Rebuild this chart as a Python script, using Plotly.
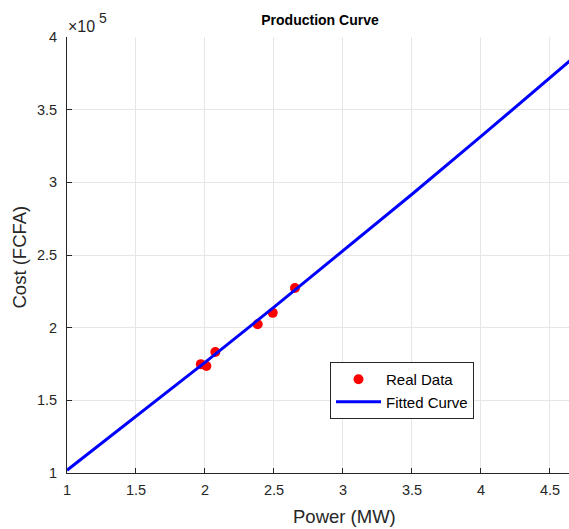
import plotly.graph_objects as go

# Data
power_mw = [1.970, 2.010, 2.075, 2.382, 2.491, 2.652]
cost_fcfa = [174900, 173600, 183200, 202300, 210200, 227300]

# Fitted curve
fit_power = [1.0, 1.5, 2.0, 2.5, 3.0, 3.5, 4.0, 4.5, 4.7]
fit_cost = [101900, 138700, 176100, 214100, 252700, 291800, 331600, 371900, 388100]

x_ticks = [1, 1.5, 2, 2.5, 3, 3.5, 4, 4.5]
x_ticktext = ["1", "1.5", "2", "2.5", "3", "3.5", "4", "4.5"]
y_ticks = [100000, 150000, 200000, 250000, 300000, 350000, 400000]
y_ticktext = ["1", "1.5", "2", "2.5", "3", "3.5", "4"]

FONT = "Liberation Sans, Arial, sans-serif"
DARK = "#262626"
GRID = "#e6e6e6"

L, T, B = 67, 37, 56
W, H = 569, 529
PW = 502.0           # plot width in px (x range ends at window edge)
PH = H - T - B       # plot height in px

fig = go.Figure()
fig.add_trace(go.Scatter(
    x=power_mw, y=cost_fcfa, mode="markers", name="Real Data",
    marker=dict(color="#ff0000", size=10, line=dict(width=0)),
))
fig.add_trace(go.Scatter(
    x=fit_power, y=fit_cost, mode="lines", name="Fitted Curve",
    line=dict(color="#0000ff", width=3),
))

fig.update_layout(
    width=W, height=H,
    margin=dict(l=L, r=0, t=T, b=B, autoexpand=False),
    paper_bgcolor="white", plot_bgcolor="white",
    font=dict(family=FONT, size=14, color=DARK),
    title=dict(text="<b>Production Curve</b>", x=320 / W, xanchor="center",
               y=1 - 20 / H, yanchor="middle", font=dict(size=14, color="black")),
    showlegend=True,
    legend=dict(x=(330 - L) / PW, y=(473 - 362) / PH, xanchor="left", yanchor="top",
                bgcolor="white", bordercolor=DARK, borderwidth=1,
                font=dict(size=15, color="black"), tracegroupgap=0,
                itemwidth=45),
    xaxis=dict(
        range=[1, 4.638], tickvals=x_ticks, ticktext=x_ticktext,
        showgrid=True, gridcolor=GRID, gridwidth=1,
        showline=True, linecolor=DARK, linewidth=1,
        ticks="inside", ticklen=5, tickcolor=DARK, ticklabelstandoff=4,
        zeroline=False, tickfont=dict(size=14.5, color=DARK),
        automargin=False,
    ),
    yaxis=dict(
        range=[100000, 400000], tickvals=y_ticks, ticktext=y_ticktext,
        showgrid=True, gridcolor=GRID, gridwidth=1,
        showline=True, linecolor=DARK, linewidth=1,
        ticks="inside", ticklen=5, tickcolor=DARK, ticklabelstandoff=6,
        zeroline=False, tickfont=dict(size=14.5, color=DARK),
        automargin=False,
    ),
)

# axis titles
fig.add_annotation(
    x=(344 - L) / PW, y=-(516 - 473) / PH, xref="paper", yref="paper",
    xanchor="center", yanchor="middle", text="Power (MW)", showarrow=False,
    font=dict(size=18.5, color=DARK),
)
fig.add_annotation(
    x=(19 - L) / PW, y=(473 - 257.5) / PH, xref="paper", yref="paper",
    xanchor="center", yanchor="middle", text="Cost (FCFA)", showarrow=False,
    textangle=-90, font=dict(size=18.5, color=DARK),
)

# exponent label
fig.add_annotation(
    x=(66 - L) / PW, y=(473 - 26.5) / PH, xref="paper", yref="paper",
    xanchor="left", yanchor="middle", text="×10", showarrow=False,
    font=dict(size=16, color=DARK),
)
fig.add_annotation(
    x=(97 - L) / PW, y=(473 - 18.5) / PH, xref="paper", yref="paper",
    xanchor="left", yanchor="middle", text="5", showarrow=False,
    font=dict(size=14, color=DARK),
)

fig.write_html("out.html")
